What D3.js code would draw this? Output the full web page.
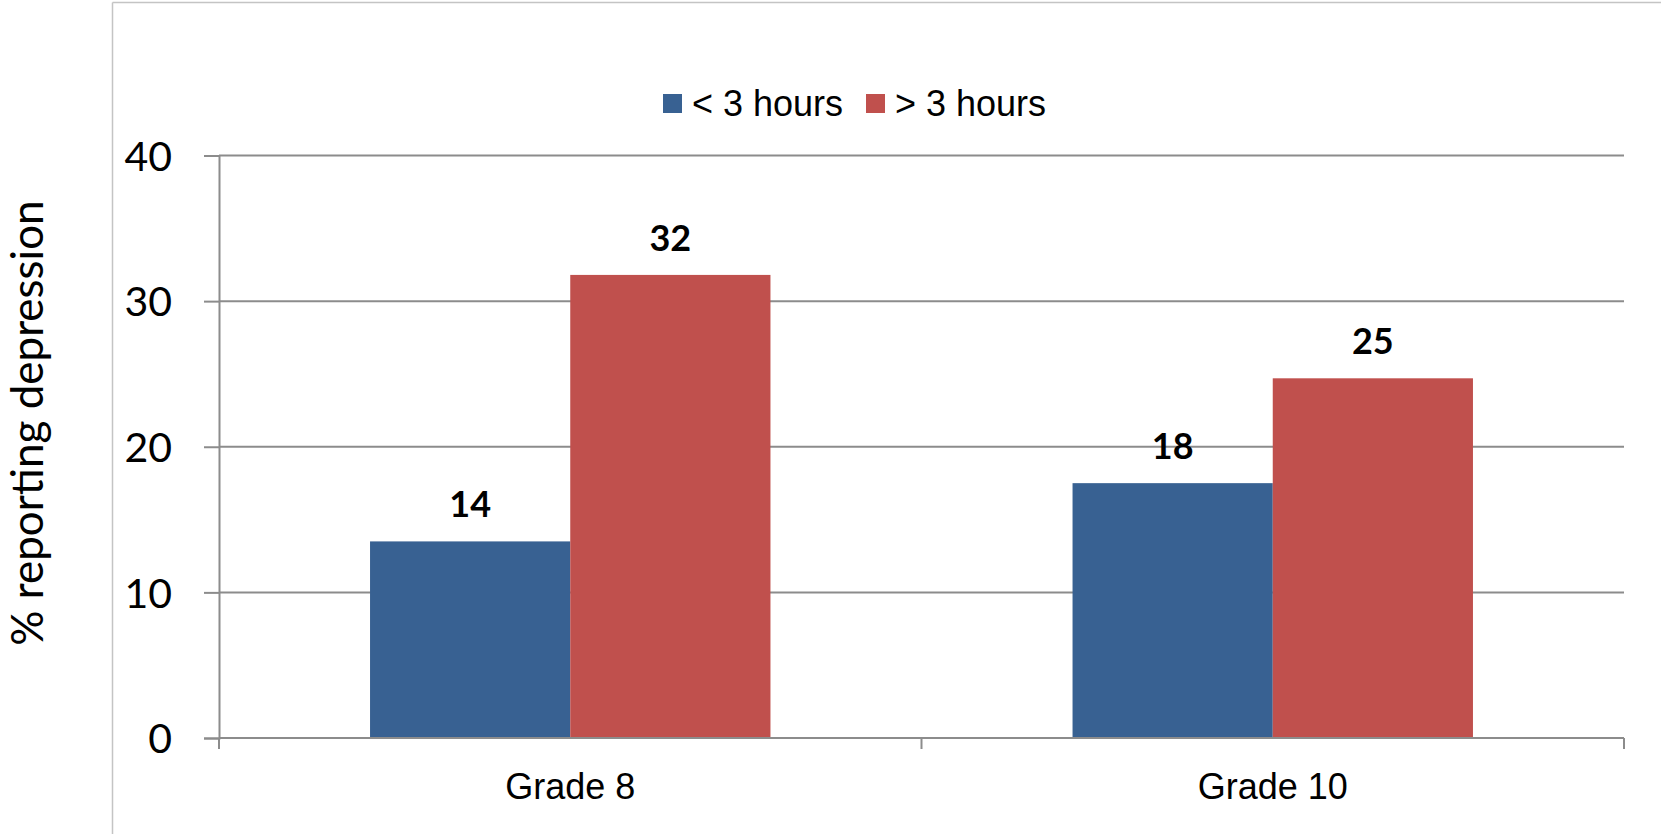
<!DOCTYPE html>
<html>
<head>
<meta charset="utf-8">
<script src="https://cdn.jsdelivr.net/npm/d3@7"></script>
<style>
  body { margin: 0; background: #fff; }
  svg { display: block; }
</style>
</head>
<body>
<svg width="1661" height="834"></svg>
<script>
const categories = ["Grade 8", "Grade 10"];
const series = ["< 3 hours", "> 3 hours"];
const lessThan3 = [13.5, 17.5];
const moreThan3 = [31.8, 24.7];
const valueLabels = [["14", "32"], ["18", "25"]];
const yTicks = [0, 10, 20, 30, 40];
const colors = ["#386192", "#c0504d"];

const LEFT = 219, RIGHT = 1624, TOP = 155.5, BOTTOM = 738;

var svg = d3.select("svg");

// outer frame (only left and top edges visible)
svg.append("line").attr("x1", 112.5).attr("y1", 2.5).attr("x2", 1661).attr("y2", 2.5)
  .attr("stroke", "#c4c4c4").attr("stroke-width", 1.5);
svg.append("line").attr("x1", 112.5).attr("y1", 2.5).attr("x2", 112.5).attr("y2", 834)
  .attr("stroke", "#c4c4c4").attr("stroke-width", 1.5);

var y = d3.scaleLinear().domain([0, 40]).range([BOTTOM, TOP]);
var x0 = d3.scaleBand().domain(categories).range([LEFT, RIGHT])
  .paddingInner(0.43).paddingOuter(0.215);
var x1 = d3.scaleBand().domain(series).range([0, x0.bandwidth()]);

// gridlines
svg.append("g").selectAll("line").data(yTicks.slice(1)).enter().append("line")
  .attr("x1", LEFT).attr("x2", RIGHT)
  .attr("y1", (d) => y(d)).attr("y2", (d) => y(d))
  .attr("stroke", "#8c8c8c").attr("stroke-width", 2);

// bars
var data = categories.map((c, i) => ({ cat: c, vals: [lessThan3[i], moreThan3[i]], labels: valueLabels[i] }));
var groups = svg.append("g").selectAll("g").data(data).enter().append("g")
  .attr("transform", (d) => "translate(" + x0(d.cat) + ",0)");
groups.selectAll("rect").data((d) => d.vals.map((v, j) => ({ s: series[j], v: v, j: j }))).enter()
  .append("rect")
  .attr("x", (d) => x1(d.s))
  .attr("y", (d) => y(d.v))
  .attr("width", x1.bandwidth())
  .attr("height", (d) => BOTTOM - y(d.v))
  .attr("fill", (d) => colors[d.j]);
groups.selectAll("text").data((d) => d.vals.map((v, j) => ({ s: series[j], v: v, t: d.labels[j] }))).enter()
  .append("text")
  .attr("x", (d) => x1(d.s) + x1.bandwidth() / 2)
  .attr("y", (d) => y(d.v) - 24)
  .attr("text-anchor", "middle")
  .attr("font-family", "Lato, sans-serif")
  .attr("font-weight", "bold")
  .attr("font-size", 36)
  .attr("fill", "#000")
  .text((d) => d.t);

// y axis
var yAxis = d3.axisLeft(y).tickValues(yTicks).tickSize(15).tickPadding(32);
var yg = svg.append("g").attr("transform", "translate(" + LEFT + ",0)").call(yAxis);
yg.select(".domain").attr("stroke", "#8c8c8c").attr("stroke-width", 2);
yg.selectAll(".tick line").attr("stroke", "#8c8c8c").attr("stroke-width", 2);
yg.selectAll(".tick text").attr("font-family", "Lato, sans-serif").attr("font-size", 41)
  .attr("fill", "#000").attr("dy", "0.36em");

// x axis
var xAxis = d3.axisBottom(x0).tickSize(0).tickPadding(35);
var xg = svg.append("g").attr("transform", "translate(0," + BOTTOM + ")").call(xAxis);
xg.select(".domain").remove();
xg.selectAll(".tick text").attr("font-family", "'Liberation Sans', Arial, sans-serif")
  .attr("font-size", 36).attr("fill", "#000");
svg.append("line").attr("x1", LEFT).attr("x2", RIGHT).attr("y1", BOTTOM).attr("y2", BOTTOM)
  .attr("stroke", "#8c8c8c").attr("stroke-width", 2);
var bounds = [LEFT].concat(categories.map((c) => x0(c) + x0.bandwidth() / 2 + x0.step() / 2));
svg.append("g").selectAll("line").data(bounds).enter().append("line")
  .attr("x1", (d) => d).attr("x2", (d) => d)
  .attr("y1", BOTTOM).attr("y2", BOTTOM + 11)
  .attr("stroke", "#8c8c8c").attr("stroke-width", 2);

// y axis title
svg.append("text")
  .attr("transform", "translate(43,423) rotate(-90)")
  .attr("text-anchor", "middle")
  .attr("font-family", "Lato, sans-serif")
  .attr("font-size", 44)
  .attr("fill", "#000")
  .text("% reporting depression");

// legend
var legendX = [663, 866];
var legend = svg.append("g").selectAll("g").data(series).enter().append("g")
  .attr("transform", (d, i) => "translate(" + legendX[i] + ",94)");
legend.append("rect").attr("width", 19).attr("height", 19).attr("fill", (d, i) => colors[i]);
legend.append("text").attr("x", 29).attr("y", 22)
  .attr("font-family", "'Liberation Sans', Arial, sans-serif")
  .attr("font-size", 36).attr("fill", "#000")
  .text((d) => d);
</script>
</body>
</html>
